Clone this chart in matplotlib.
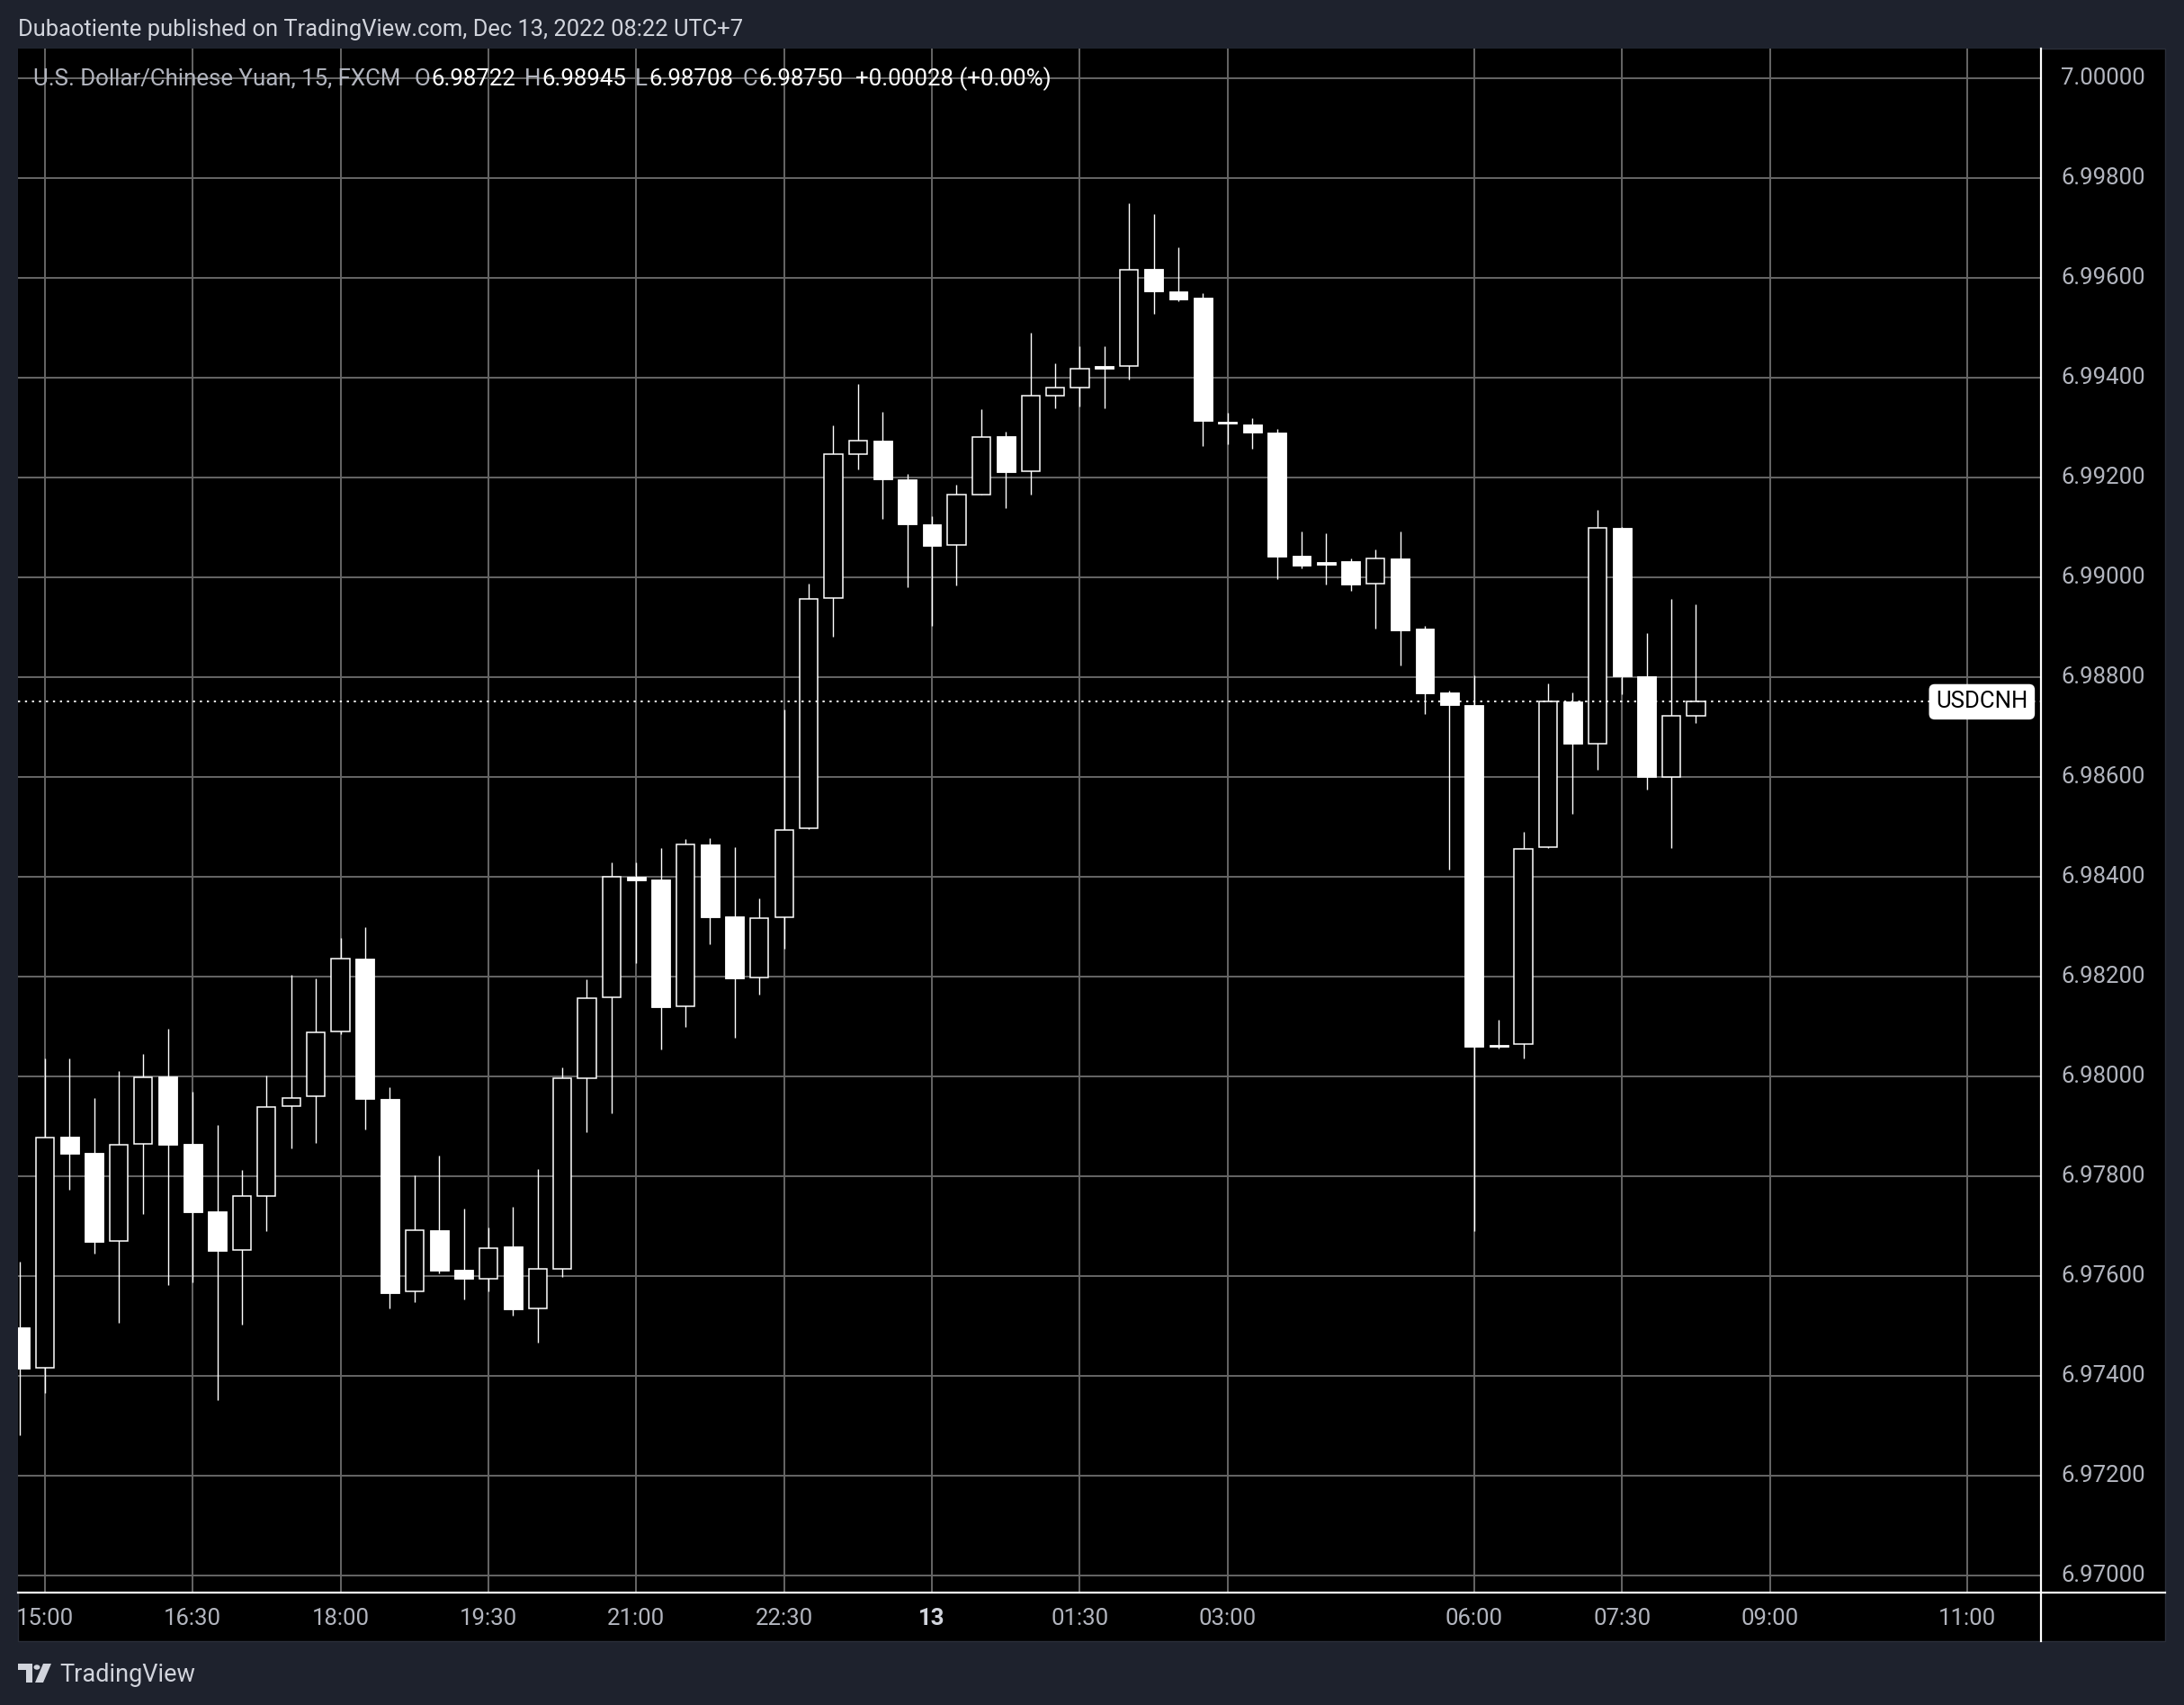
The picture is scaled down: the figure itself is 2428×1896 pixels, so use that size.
import matplotlib
matplotlib.use('Agg')
import matplotlib.pyplot as plt
import matplotlib.transforms as mtransforms
from matplotlib.lines import Line2D
from matplotlib.patches import Rectangle, Polygon, Circle
import numpy as np

plt.rcParams['font.family'] = ['Roboto', 'DejaVu Sans']

# USDCNH 15-minute candles, bar 0 = 15:00 (Dec 12)
bars = list(range(-1, 68))
opens = [6.97497, 6.97416, 6.97878, 6.97846, 6.97670, 6.97864, 6.97999, 6.97864, 6.97729, 6.97652,
         6.97760, 6.97940, 6.97959, 6.98089, 6.98236, 6.97955, 6.97568, 6.97691, 6.97612, 6.97594,
         6.97658, 6.97534, 6.97614, 6.97996, 6.98158, 6.98399, 6.98394, 6.98140, 6.98464, 6.98320,
         6.98197, 6.98318, 6.98496, 6.98958, 6.99246, 6.99274, 6.99196, 6.99105, 6.99064, 6.99166,
         6.99282, 6.99212, 6.99363, 6.99380, 6.99422, 6.99422, 6.99618, 6.99572, 6.99559, 6.99312,
         6.99306, 6.99290, 6.99043, 6.99030, 6.99031, 6.98987, 6.99038, 6.98896, 6.98769, 6.98743,
         6.98063, 6.98065, 6.98458, 6.98750, 6.98667, 6.99099, 6.98801, 6.98599, 6.98722]
highs = [6.97629, 6.98035, 6.98035, 6.97956, 6.98010, 6.98044, 6.98095, 6.97969, 6.97902, 6.97812,
         6.98001, 6.98203, 6.98196, 6.98277, 6.98299, 6.97978, 6.97802, 6.97841, 6.97735, 6.97696,
         6.97739, 6.97813, 6.98018, 6.98194, 6.98429, 6.98429, 6.98457, 6.98475, 6.98477, 6.98459,
         6.98356, 6.98734, 6.98987, 6.99304, 6.99387, 6.99331, 6.99206, 6.99122, 6.99185, 6.99336,
         6.99291, 6.99489, 6.99428, 6.99462, 6.99462, 6.99749, 6.99728, 6.99661, 6.99568, 6.99329,
         6.99319, 6.99297, 6.99092, 6.99088, 6.99038, 6.99056, 6.99092, 6.98902, 6.98772, 6.98803,
         6.98113, 6.98490, 6.98787, 6.98769, 6.99134, 6.99100, 6.98887, 6.98957, 6.98945]
lows = [6.97281, 6.97366, 6.97773, 6.97645, 6.97506, 6.97723, 6.97582, 6.97586, 6.97350, 6.97502,
        6.97690, 6.97856, 6.97867, 6.98085, 6.97894, 6.97534, 6.97547, 6.97605, 6.97552, 6.97568,
        6.97520, 6.97466, 6.97597, 6.97887, 6.97926, 6.98226, 6.98054, 6.98098, 6.98265, 6.98077,
        6.98164, 6.98255, 6.98495, 6.98881, 6.99216, 6.99117, 6.98980, 6.98903, 6.98984, 6.99165,
        6.99139, 6.99165, 6.99338, 6.99341, 6.99338, 6.99395, 6.99528, 6.99552, 6.99262, 6.99266,
        6.99257, 6.98995, 6.99017, 6.98985, 6.98973, 6.98896, 6.98823, 6.98725, 6.98413, 6.97689,
        6.98055, 6.98036, 6.98457, 6.98525, 6.98614, 6.98766, 6.98574, 6.98457, 6.98708]
closes = [6.97414, 6.97877, 6.97845, 6.97668, 6.97863, 6.97998, 6.97863, 6.97728, 6.97650, 6.97759,
          6.97939, 6.97957, 6.98088, 6.98235, 6.97954, 6.97566, 6.97691, 6.97611, 6.97594, 6.97656,
          6.97532, 6.97613, 6.97996, 6.98156, 6.98399, 6.98393, 6.98139, 6.98464, 6.98319, 6.98195,
          6.98317, 6.98494, 6.98957, 6.99246, 6.99274, 6.99195, 6.99105, 6.99063, 6.99166, 6.99281,
          6.99211, 6.99363, 6.99379, 6.99418, 6.99418, 6.99616, 6.99572, 6.99557, 6.99313, 6.99307,
          6.99289, 6.99041, 6.99023, 6.99025, 6.98985, 6.99037, 6.98893, 6.98767, 6.98743, 6.98059,
          6.98059, 6.98456, 6.98750, 6.98666, 6.99098, 6.98801, 6.98599, 6.98722, 6.98750]

tick_bars = [0, 6, 12, 18, 24, 30, 36, 42, 48, 58, 64, 70, 78]
tick_labels = ['15:00', '16:30', '18:00', '19:30', '21:00', '22:30', '13', '01:30', '03:00',
               '06:00', '07:30', '09:00', '11:00']
price_ticks = np.round(np.arange(6.970, 7.0001, 0.002), 3)
last_price = closes[-1]

W, H = 2428, 1896
def fx(px):
    return px / W
def fy(py):
    return 1 - py / H

BG = '#1e222d'
TXT = '#b2b5be'
GRID = '#666666'
L, R, T, B, B2, R2 = 20, 2269, 54, 1771, 1825, 2407  # panel edges in pixels

fig = plt.figure(figsize=(W / 100, H / 100), dpi=100, facecolor=BG)

# black chart panel (plot + both scales)
panel = Rectangle((fx(L), fy(B2)), fx(R2) - fx(L), fy(T) - fy(B2),
                  transform=fig.transFigure, facecolor='black', edgecolor='#2a2e39', lw=1, zorder=0)
fig.add_artist(panel)

ax = fig.add_axes([fx(L), fy(B), fx(R) - fx(L), fy(T) - fy(B)])
ax.set_facecolor('black')
ax.set_xlim(-1.085, 81.0)
ax.set_ylim(6.969652, 7.000589)
for s in ax.spines.values():
    s.set_visible(False)
ax.set_xticks([])
ax.set_yticks([])

# grid
for p in price_ticks:
    ax.axhline(p, color=GRID, lw=1.4, zorder=1)
for b in tick_bars:
    ax.axvline(b, color=GRID, lw=1.4, zorder=1)

# candles
o = np.array(opens)
c = np.array(closes)
x = np.array(bars)
up = c >= o
body_lo = np.minimum(o, c)
body_h = np.maximum(np.abs(c - o), 0.00002)
ax.vlines(x, lows, highs, color='white', lw=1.0, zorder=2)
ax.bar(x[up], body_h[up], bottom=body_lo[up], width=0.74, facecolor='black',
       edgecolor='white', linewidth=1.1, zorder=3)
ax.bar(x[~up], body_h[~up], bottom=body_lo[~up], width=0.76, facecolor='white',
       edgecolor='white', linewidth=0.6, zorder=3)

# last price line and symbol tag
ax.axhline(last_price, color='white', lw=1.4, linestyle=(0, (1.2, 2.8)), zorder=4)
ax.text(0.9708, last_price, 'USDCNH', transform=mtransforms.blended_transform_factory(ax.transAxes, ax.transData),
        ha='center', va='center', fontsize=18.5, color='black', zorder=6,
        bbox=dict(boxstyle='round,pad=0.3,rounding_size=0.25', facecolor='white', edgecolor='none'))

# price scale labels
tr_y = mtransforms.blended_transform_factory(fig.transFigure, ax.transData)
for p in price_ticks:
    fig.text(fx(2338), p, f'{p:.5f}', transform=tr_y, ha='center', va='center',
             fontsize=18.5, color=TXT)

# time scale labels (clipped to the panel)
tr_x = mtransforms.blended_transform_factory(ax.transData, fig.transFigure)
for b, lab in zip(tick_bars, tick_labels):
    bold = lab == '13'
    t = fig.text(b, fy(1800), lab, transform=tr_x, ha='center', va='center', fontsize=18.5,
                 color='#d1d4dc' if bold else TXT, fontweight='bold' if bold else 'normal')
    t.set_clip_path(panel)

# scale separators
fig.add_artist(Line2D([fx(R), fx(R)], [fy(T), fy(B2)], transform=fig.transFigure, color='white', lw=1.6))
fig.add_artist(Line2D([fx(L), fx(R2)], [fy(B), fy(B)], transform=fig.transFigure, color='white', lw=1.6))

# header
fig.text(fx(20), fy(33), 'Dubaotiente published on TradingView.com, Dec 13, 2022 08:22 UTC+7',
         ha='left', va='center', fontsize=18.4, color='#d1d4dc')

# legend line with OHLC values
fig.canvas.draw()
rend = fig.canvas.get_renderer()
pieces = [('U.S. Dollar/Chinese Yuan, 15, FXCM', TXT, 15),
          ('O', TXT, 1), (f'{opens[-1]:.5f}', 'white', 10),
          ('H', TXT, 1), (f'{highs[-1]:.5f}', 'white', 10),
          ('L', TXT, 1), (f'{lows[-1]:.5f}', 'white', 10),
          ('C', TXT, 1), (f'{closes[-1]:.5f}', 'white', 14),
          (f'{closes[-1] - opens[-1]:+.5f} (+0.00%)', 'white', 0)]
xp = 37
for txt, col, gap in pieces:
    t = fig.text(fx(xp), fy(88), txt, ha='left', va='center', fontsize=18.6, color=col, zorder=7)
    xp += t.get_window_extent(renderer=rend).width + gap

# TradingView logo
logo = '#d1d4dc'
fig.add_artist(Polygon([(fx(20), fy(1850)), (fx(36), fy(1850)), (fx(36), fy(1871)), (fx(29), fy(1871)),
                        (fx(29), fy(1857)), (fx(20), fy(1857))], closed=True, transform=fig.transFigure,
                       facecolor=logo, edgecolor='none'))
fig.add_artist(Circle((fx(41), fy(1854)), 3.5 / W, transform=fig.transFigure, facecolor=logo, edgecolor='none'))
fig.add_artist(Polygon([(fx(48), fy(1850)), (fx(57), fy(1850)), (fx(48), fy(1871)), (fx(39), fy(1871))],
                       closed=True, transform=fig.transFigure, facecolor=logo, edgecolor='none'))
fig.text(fx(66), fy(1862), 'TradingView', ha='left', va='center', fontsize=19.5, color=logo)

fig.savefig('out.png', dpi=100, facecolor=BG)
